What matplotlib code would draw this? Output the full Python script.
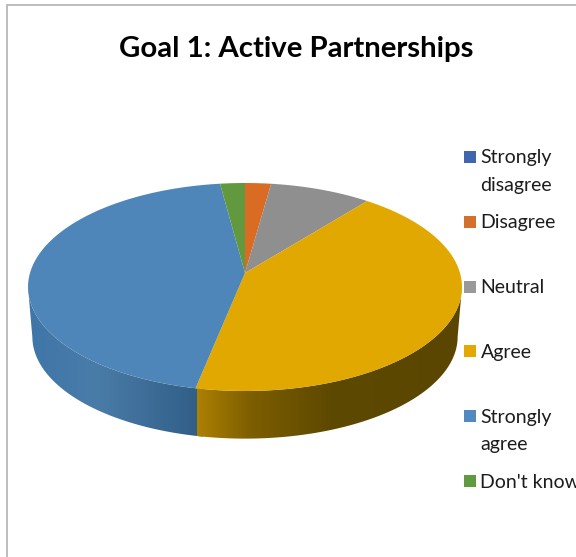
import numpy as np
import matplotlib
matplotlib.use("Agg")
import matplotlib.pyplot as plt
from matplotlib.colors import LinearSegmentedColormap
from matplotlib.patches import Polygon, Rectangle

# Survey responses, percent
categories = ["Strongly\ndisagree", "Disagree", "Neutral", "Agree", "Strongly\nagree", "Don't know"]
shares = [0.0, 2.2, 8.6, 42.4, 44.7, 2.1]
title = "Goal 1: Active Partnerships"

face_colors = ["#3f66ae", "#d96c22", "#8f8f8f", "#e0a800", "#4f86ba", "#62993f"]
swatch_colors = ["#3f66ae", "#d4702e", "#999999", "#e3a900", "#5088bf", "#5f9a41"]

WIDTH, HEIGHT = 576, 557
plt.rcParams["font.family"] = ["Lato", "DejaVu Sans"]

# Perspective disc: apex position, radii and foreshortening of the far edge
CX, CY = 245.0, 273.0
RX, RY, K = 215.0, 102.1, 0.1346
FLOOR_CY, FLOOR_SCALE = 323.0, 0.98


def project(theta, cy=CY, scale=1.0):
    """Disc angle (radians, clockwise from 12 o'clock) to canvas position."""
    u, v = np.sin(theta), np.cos(theta)
    d = 1 + K * v
    return CX + scale * RX * u / d, cy - scale * RY * v / d


fig = plt.figure(figsize=(WIDTH / 100, HEIGHT / 100), dpi=100)
ax = fig.add_axes([0, 0, 1, 1])
ax.axis("off")

# Chart frame: only the top and left rules fall inside the canvas
ax.plot([WIDTH, 7, 7], [5, 5, HEIGHT], color="#b2b2b2", lw=1.2, solid_joinstyle="miter")

edges = np.cumsum([0.0] + shares) / sum(shares) * 2 * np.pi

# Side wall shading runs left to right along the rim
wall_maps = {
    3: LinearSegmentedColormap.from_list("agree_wall", [(0, "#ad8000"), (0.2, "#7d5e00"), (0.5, "#5e4900"), (1, "#5a4600")]),
    4: LinearSegmentedColormap.from_list("sa_wall", [(0, "#3f75a8"), (0.4, "#4a7ca8"), (1, "#2f5d86")]),
}
wall_spans = {3: (197.0, 463.0), 4: (27.0, 203.0)}
wall_overlap = {3: 0.0, 4: 0.03}  # blue runs slightly under the gold so no seam shows
gradient = np.linspace(0, 1, 256).reshape(1, -1)

for i in (4, 3):
    lo, hi = wall_spans[i]
    # The wall is visible only between the two silhouette tangents of the rim
    theta = np.linspace(edges[i] - wall_overlap[i], edges[i + 1], 600)
    theta = theta[np.cos(theta) < -K]
    xt, yt = project(theta)
    xf, yf = project(theta[::-1], FLOOR_CY, FLOOR_SCALE)
    outline = Polygon(np.column_stack([np.r_[xt, xf], np.r_[yt, yf]]), closed=True,
                      transform=ax.transData, facecolor="none", edgecolor="none")
    ax.add_patch(outline)
    img = ax.imshow(gradient, cmap=wall_maps[i], extent=(lo, hi, 460, 260), aspect="auto",
                    vmin=0, vmax=1, interpolation="bilinear")
    img.set_clip_path(outline)

# Top face wedges
for i, share in enumerate(shares):
    if share <= 0:
        continue
    theta = np.linspace(edges[i], edges[i + 1], 200)
    xs, ys = project(theta)
    ax.add_patch(Polygon(np.column_stack([np.r_[CX, xs], np.r_[CY, ys]]), closed=True,
                         facecolor=face_colors[i], edgecolor="none"))

ax.text(296, 49, title, ha="center", va="center", fontsize=21.2, fontweight="bold", color="#000000")

# Legend column
LEG_X, LEG_TOP, LEG_STEP, SWATCH = 464, 157.0, 64.8, 12
for i, (name, col) in enumerate(zip(categories, swatch_colors)):
    y = LEG_TOP + i * LEG_STEP
    ax.add_patch(Rectangle((LEG_X, y - SWATCH / 2), SWATCH, SWATCH, facecolor=col, edgecolor="none"))
    for j, line in enumerate(name.split("\n")):
        ax.text(LEG_X + 16.5, y + 1 + j * 27, line, ha="left", va="center", fontsize=14,
                color="#1c1c1c", clip_on=True)

ax.set_xlim(0, WIDTH)
ax.set_ylim(HEIGHT, 0)
fig.savefig("out.png", dpi=100, facecolor="white")
